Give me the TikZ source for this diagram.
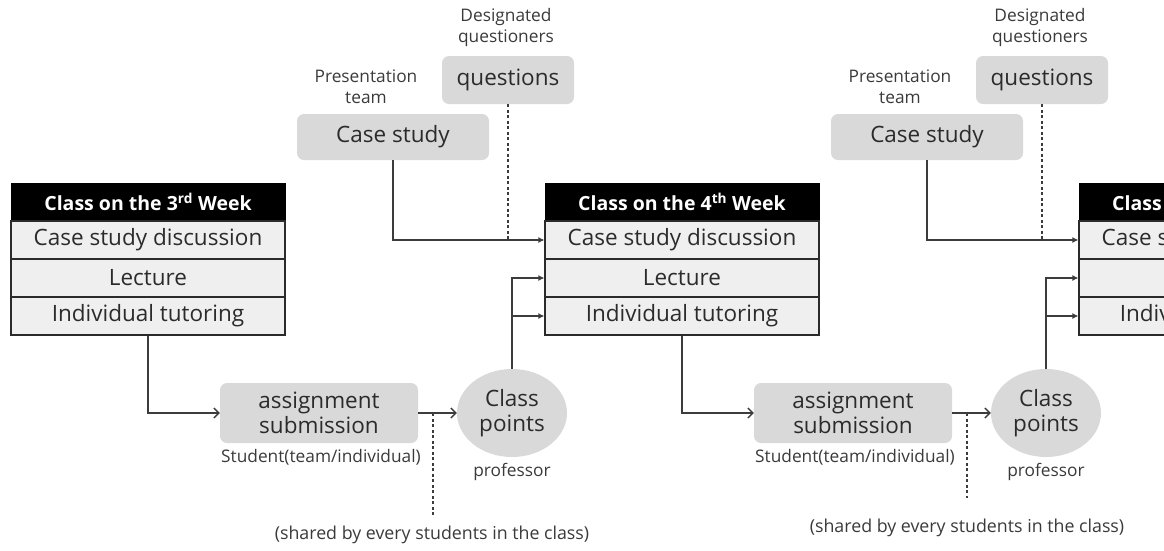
\documentclass[tikz,border=0pt]{standalone}
\usepackage{fontspec}
\setmainfont{Open Sans}
\usetikzlibrary{arrows.meta,shapes.geometric}
\definecolor{ink}{HTML}{2B2B2B}
\definecolor{linec}{HTML}{3C3C3C}
\definecolor{rowgray}{HTML}{EFEFEF}
\definecolor{boxgray}{HTML}{D9D9D9}
\definecolor{labc}{HTML}{3A3A3A}
\tikzset{
  hdr/.style={rectangle, draw=black, fill=black, text=white, line width=1pt,
    font=\fontsize{19.5}{22}\selectfont\bfseries, minimum width=274pt, minimum height=38pt, inner sep=0pt},
  rowbox/.style={rectangle, draw=ink, line width=1.2pt, fill=rowgray, text=ink,
    font=\fontsize{22.5}{25}\selectfont, minimum width=274pt, minimum height=38pt, inner sep=0pt},
  gbox/.style={rectangle, rounded corners=7pt, fill=boxgray, text=ink, inner sep=0pt,
    font=\fontsize{22.5}{25}\selectfont, align=center},
  cloud/.style={ellipse, fill=boxgray, text=ink, inner sep=0pt, minimum width=110pt, minimum height=88pt,
    font=\fontsize{22.5}{25}\selectfont, align=center},
  lab/.style={text=labc, font=\fontsize{17.3}{21}\selectfont, align=center, inner sep=0pt},
  conn/.style={draw=linec, line width=1.3pt},
  arrf/.style={conn, -{Latex[length=6pt,width=6pt]}},
  arro/.style={conn, -{Straight Barb[length=5pt,width=10pt]}},
  dashln/.style={draw=linec, line width=1.3pt, dash pattern=on 3pt off 2.5pt},
}
\begin{document}
\begin{tikzpicture}[x=1pt,y=-1pt]
\useasboundingbox (0,0) rectangle (1164,550);
\clip (0,0) rectangle (1164,550);

% ---------- week 3 ----------
\node[hdr] (h1) at (148,202) {Class on the 3\textsuperscript{rd} Week};
\node[rowbox] (a1) at (148,240) {Case study discussion};
\node[rowbox] (l1) at (148,278) {Lecture};
\node[rowbox] (t1) at (148,316) {Individual tutoring};

\node[gbox, minimum width=198pt, minimum height=60pt] (as1) at (319,413) {assignment\\submission};
\node[cloud] (cp1) at (512,413) {Class\\points};
\node[lab] (st1) at (321,457) {Student(team/individual)};
\node[lab] (pr1) at (512,472) {professor};
\node[lab, font=\fontsize{17.8}{21}\selectfont] (sh1) at (432,535) {(shared by every students in the class)};

\node[gbox, minimum width=192pt, minimum height=46pt] (cs1) at (393,137) {Case study};
\node[gbox, minimum width=132pt, minimum height=48pt] (q1) at (508,80) {questions};
\node[lab] (pt1) at (366,87) {Presentation\\team};
\node[lab] (dq1) at (506,28) {Designated\\questioners};

% ---------- week 4 ----------
\node[hdr] (h2) at (682,202) {Class on the 4\textsuperscript{th} Week};
\node[rowbox] (a2) at (682,240) {Case study discussion};
\node[rowbox] (l2) at (682,278) {Lecture};
\node[rowbox] (t2) at (682,316) {Individual tutoring};

\node[gbox, minimum width=198pt, minimum height=60pt] (as2) at (853,413) {assignment\\submission};
\node[cloud] (cp2) at (1046,413) {Class\\points};
\node[lab] (st2) at (855,457) {Student(team/individual)};
\node[lab] (pr2) at (1046,472) {professor};
\node[lab, font=\fontsize{17.8}{21}\selectfont] (sh2) at (967,528) {(shared by every students in the class)};

\node[gbox, minimum width=192pt, minimum height=46pt] (cs2) at (927,137) {Case study};
\node[gbox, minimum width=132pt, minimum height=48pt] (q2) at (1042,80) {questions};
\node[lab] (pt2) at (900,87) {Presentation\\team};
\node[lab] (dq2) at (1040,28) {Designated\\questioners};

% ---------- week 5 (cut off by the picture's right edge) ----------
\node[hdr] (h3) at (1216,202) {Class on the 5\textsuperscript{th} Week};
\node[rowbox] (a3) at (1216,240) {Case study discussion};
\node[rowbox] (l3) at (1216,278) {Lecture};
\node[rowbox] (t3) at (1216,316) {Individual tutoring};

% ---------- connectors ----------
\draw[arro] (t1.south) |- (as1.west);
\draw[arro] (as1.east) -- (cp1.west);
\coordinate (d1a) at (433,413);
\coordinate (d1b) at (433,515);
\draw[dashln] (d1a) -- (d1b);
\draw[arrf] (cp1.north) |- (l2.west);
\draw[arrf] (cp1.north) |- (t2.west);
\draw[arrf] (cs1.south) |- (a2.west);
\draw[dashln] (q1.south) -- (q1.south |- a2.west);

\draw[arro] (t2.south) |- (as2.west);
\draw[arro] (as2.east) -- (cp2.west);
\coordinate (d2a) at (967,413);
\coordinate (d2b) at (967,498);
\draw[dashln] (d2a) -- (d2b);
\draw[arrf] (cp2.north) |- (l3.west);
\draw[arrf] (cp2.north) |- (t3.west);
\draw[arrf] (cs2.south) |- (a3.west);
\draw[dashln] (q2.south) -- (q2.south |- a3.west);
\end{tikzpicture}
\end{document}
